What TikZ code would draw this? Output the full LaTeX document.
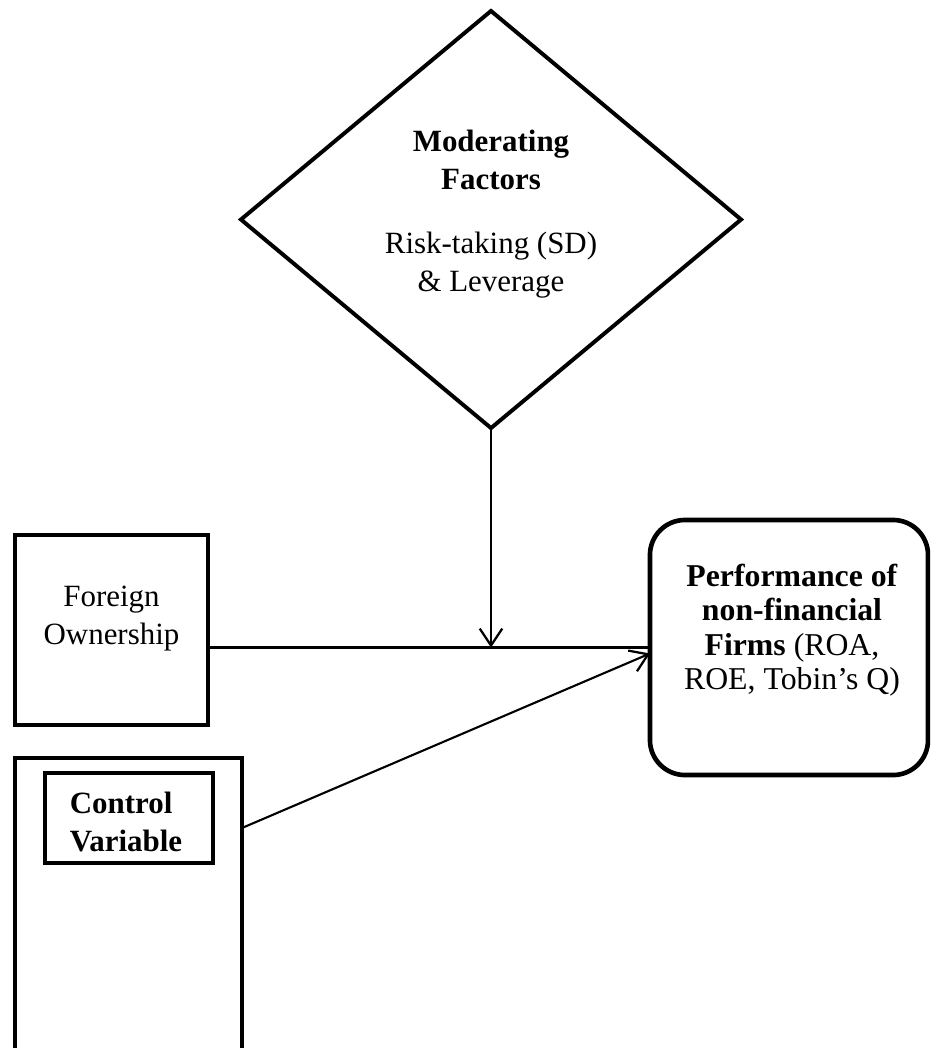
\documentclass[tikz,border=0pt]{standalone}
\usepackage{fontspec}
\setmainfont{Liberation Serif}
\usetikzlibrary{shapes.geometric,arrows.meta,calc}
\begin{document}
\begin{tikzpicture}[x=0.025cm,y=-0.025cm,
 box/.style={draw, line width=3pt, rectangle, inner sep=0pt, outer sep=0pt},
 conn/.style={line width=1.5pt},
 arr/.style={conn, -{Straight Barb[length=12pt,width=16pt,line width=1.6pt]}},
 txt/.style={font=\fontsize{22}{27}\selectfont, align=center, inner sep=0pt},
 perftxt/.style={font=\fontsize{22.6}{24.5}\selectfont, align=center, inner sep=0pt}
]
\clip (0,0) rectangle (930,1048);
\useasboundingbox (0,0) rectangle (930,1048);
\fill[white] (0,0) rectangle (930,1048);

% moderating diamond
\node[diamond, draw, line width=2.8pt, minimum width=12.5cm, minimum height=10.425cm, inner sep=0pt, outer sep=0pt] (mod) at (491,219.5) {};
\node[txt] (modtext) at (491,214) {\textbf{Moderating}\\\textbf{Factors}\\[18pt]Risk-taking (SD)\\\& Leverage};

% foreign ownership
\node[box, minimum width=4.825cm, minimum height=4.75cm] (fo) at (111.5,630) {};
\node[txt] (fotext) at (111.5,619) {Foreign\\Ownership};

% control variable
\node[box, minimum width=5.675cm, minimum height=7.675cm] (ctrl) at (128.5,911.5) {};
\node[box, minimum width=4.2cm, minimum height=2.25cm] (cv) at (129,818) {};
\node[font=\fontsize{22}{27}\selectfont\bfseries, align=left, inner sep=0pt] (cvtext) at (126,822) {Control\\Variable};

% performance
\node[box, line width=3.3pt, rounded corners=0.875cm, minimum width=6.95cm, minimum height=6.375cm] (perf) at (789,647.5) {};
\node[perftxt] (perftext) at (792,630) {\textbf{Performance of}\\\textbf{non-financial}\\\textbf{Firms} (ROA,\\ROE, Tobin's Q)};

% connectors
\draw[arr] (mod.south) -- (mod.south |- perf.west);
\draw[conn] (fo.east |- perf.west) -- (perf.west);
\draw[arr] ($(ctrl.north east)+(0,70)$) -- ($(perf.west)+(0,6)$);
\end{tikzpicture}
\end{document}
